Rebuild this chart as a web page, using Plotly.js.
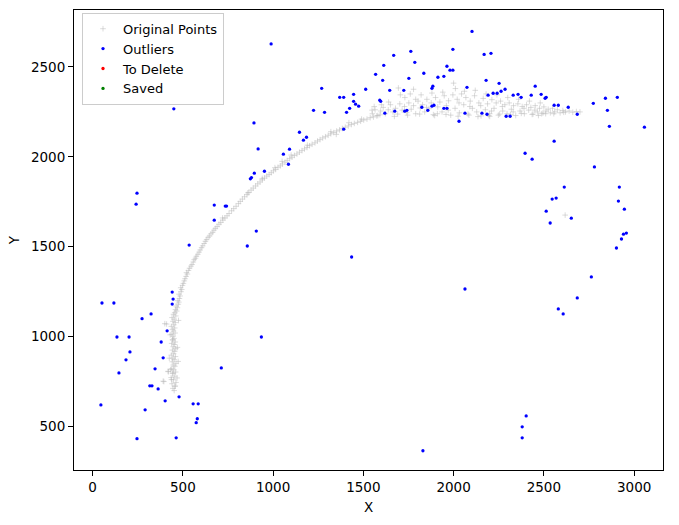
<!DOCTYPE html>
<html>
<head>
<meta charset="utf-8">
<script src="https://cdn.plot.ly/plotly-3.0.1.min.js"></script>
<style>html,body{margin:0;padding:0;background:#fff;}#chart{width:679px;height:525px;}</style>
</head>
<body>
<div id="chart"></div>
<script>
// ---- Data ----
const origX = [452,445,458,440,462,448,435,455,443,460,450,438,456,447,462,441,452,444,459,436,449,455,442,461,447,453,438,458,444,451,446,439,457,448,442,455,436,450,458,445,452,440,461,448,455,466,459,470,463,475,478,472,481,485,479,490,494,488,498,503,508,512,518,525,520,531,537,545,551,558,563,570,575,583,590,596,604,610,618,625,632,640,648,656,665,672,680,690,700,710,722,733,745,756,770,782,795,808,818,830,842,855,866,878,890,903,915,928,940,952,965,978,990,1002,1014,1027,1040,1052,1066,1078,1092,1105,1118,1132,1146,1160,1174,1188,1202,1216,1232,1246,1260,1275,1290,1305,1320,1336,1352,1368,1384,1400,1417,1434,1450,1468,1485,1502,1520,1538,1556,1574,1592,
430,425,470,476,410,395,420,468,474,1010,1050,1100,1190,1320,1350,1420,1490,720,860,940,432,446,437,443,418,391,400,456,
1550,1565,1580,1596,1610,1622,1638,1650,1664,1678,1690,1702,1715,1728,1740,1752,1765,1778,1790,1803,1815,1828,1840,1852,1864,1876,1888,1900,1912,1924,1936,1948,1960,1972,1984,1996,2008,2020,2032,2044,2056,2068,2080,2092,2104,2116,2128,2140,2152,2164,2176,2188,2200,2212,2224,2236,2248,2260,2272,2284,2296,2308,2320,2332,2344,2356,2368,2380,2392,2404,2416,2428,2440,2452,2464,2476,2488,2500,2512,2524,2536,2548,2560,2575,2590,2605,2620,2640,2660,2680,2700,
1705,1730,1760,1790,1820,1850,1880,1910,1940,1970,2000,2010,2030,2060,2090,2120,2150,2180,2210,2240,2270,2300,2330,2360,2390,2420,2450,2480,2510,2470,2200,1778,1694,1640,1600,2618,1548,1560,1672,1745,1812,1895,1958,2025,2085,2135,2195,2255,2315,2375,2435,2495,2555,2610];
const origY = [700,712,725,738,745,760,772,780,795,803,815,822,835,842,851,860,872,880,889,897,905,918,925,933,944,956,962,970,981,990,1002,1013,1020,1031,1040,1048,1057,1066,1078,1085,1097,1106,1115,1124,1133,1142,1150,1161,1170,1180,1192,1200,1212,1226,1236,1250,1262,1272,1285,1296,1310,1322,1335,1348,1356,1368,1380,1392,1401,1415,1428,1436,1447,1458,1470,1482,1495,1505,1518,1530,1540,1552,1560,1572,1580,1592,1602,1612,1625,1635,1648,1660,1672,1685,1700,1712,1725,1740,1752,1765,1778,1790,1802,1815,1826,1838,1850,1860,1872,1882,1893,1902,1912,1922,1930,1942,1950,1960,1970,1980,1990,1998,2008,2016,2026,2035,2044,2052,2062,2070,2078,2088,2096,2105,2112,2120,2128,2135,2144,2150,2158,2165,2172,2180,2186,2192,2198,2205,2210,2218,2222,2228,2234,
1010,880,940,1090,1070,750,805,770,862,1940,1975,2010,2065,2140,2125,2190,2210,1660,1800,1880,817,798,761,983,807,752,1072,724,
2240,2262,2230,2255,2275,2240,2262,2290,2250,2270,2238,2295,2260,2280,2246,2300,2265,2285,2240,2310,2272,2290,2250,2320,2268,2300,2235,2330,2278,2305,2250,2340,2285,2312,2232,2345,2270,2320,2245,2350,2290,2330,2238,2310,2270,2340,2250,2300,2228,2325,2262,2295,2240,2318,2270,2300,2232,2310,2255,2290,2240,2300,2265,2285,2230,2295,2255,2280,2240,2290,2260,2275,2238,2285,2250,2270,2240,2278,2255,2265,2245,2270,2250,2262,2245,2258,2250,2255,2248,2252,2250,
2345,2330,2350,2320,2345,2275,2355,2240,2360,2260,2410,2380,2300,2365,2280,2370,2285,2350,2255,2345,2280,2330,2250,2320,2270,2310,2260,2300,2240,2230,2225,2376,2383,2305,2290,1676,2260,2280,2225,2232,2238,2230,2236,2226,2232,2224,2230,2238,2234,2242,2236,2244,2240,2248];

const outX = [989,450,894,917,246,241,674,735,742,674,896,874,880,952,907,857,535,52,118,441,446,441,324,274,135,202,413,380,207,185,391,146,346,317,329,363,479,402,46,291,557,585,580,574,246,463,935,713,
1269,1224,1285,1369,1391,1446,1446,1457,1474,1424,1407,1391,1513,1568,1613,1607,1646,1668,1591,1596,1619,1674,1724,1729,1741,1752,1763,1785,1835,1824,1857,1880,1885,1880,1891,1913,1946,1963,1980,1996,1996,1946,1963,2030,2063,2074,1146,1168,1185,1057,1091,1085,
2102,2169,2207,2180,2191,2219,2241,2252,2263,2285,2157,2185,2291,2313,2330,2357,2374,2430,2452,2485,2507,2513,2557,2580,2635,2685,2774,2841,2852,2907,2863,3057,2557,2396,2435,2780,
2613,2918,2546,2568,2913,2513,2946,2652,2535,2941,2957,2930,2902,2763,2063,2685,2580,2607,1435,1830,2402,2380,2380];
const outY = [2628,2267,2189,2044,1798,1737,1732,1726,1726,1648,1909,1878,1885,1920,1587,1504,1509,1187,1187,1248,1209,1181,1126,1100,998,998,1032,970,915,871,882,798,821,726,726,709,665,643,620,593,626,626,543,521,432,437,998,826,
2381,2259,2248,2331,2331,2348,2309,2293,2282,2270,2248,2154,2376,2459,2509,2426,2370,2565,2315,2309,2243,2254,2370,2254,2259,2437,2587,2526,2465,2276,2259,2381,2393,2282,2287,2443,2448,2504,2482,2482,2598,2270,2270,2198,2243,2387,2137,2093,2109,2015,2043,1959,
2698,2570,2576,2426,2343,2354,2354,2409,2365,2376,2243,2237,2226,2226,2343,2348,2331,2343,2393,2348,2326,2331,2287,2287,2276,2237,2298,2326,2259,2331,2170,2165,2087,2020,1987,1944,
1832,1832,1765,1771,1754,1698,1709,1659,1632,1570,1576,1543,1493,1332,1265,1215,1154,1126,1443,365,559,498,437];

// "To Delete" and "Saved" hold no points in the reference (legend only)
const deleteX = [null];
const deleteY = [null];
const savedX = [null];
const savedY = [null];

const seriesNames = ["Original Points", "Outliers", "To Delete", "Saved"];
const xTicks = [0, 500, 1000, 1500, 2000, 2500, 3000];
const yTicks = [500, 1000, 1500, 2000, 2500];

// ---- Traces ----
const traces = [
  {x: origX, y: origY, name: seriesNames[0], type: 'scatter', mode: 'markers',
   marker: {symbol: 'cross-thin-open', size: 4, color: 'rgba(185,185,185,0.5)', line: {color: 'rgba(185,185,185,0.5)', width: 1}}},
  {x: outX, y: outY, name: seriesNames[1], type: 'scatter', mode: 'markers',
   marker: {symbol: 'circle', size: 3.3, color: '#0000ff'}},
  {x: deleteX, y: deleteY, name: seriesNames[2], type: 'scatter', mode: 'markers',
   marker: {symbol: 'circle', size: 3.3, color: '#ff0000'}},
  {x: savedX, y: savedY, name: seriesNames[3], type: 'scatter', mode: 'markers',
   marker: {symbol: 'circle', size: 3.3, color: '#008000'}}
];

const axisFont = {family: 'DejaVu Sans', size: 13.5, color: '#000'};
const layout = {
  width: 679, height: 525,
  margin: {l: 74, r: 16, t: 10, b: 54.5, pad: 0},
  paper_bgcolor: '#fff', plot_bgcolor: '#fff',
  font: axisFont,
  showlegend: true,
  legend: {x: 0.0136, y: 0.994, xanchor: 'left', yanchor: 'top',
           bgcolor: 'rgba(255,255,255,0.8)', bordercolor: '#cccccc', borderwidth: 1,
           font: {family: 'DejaVu Sans', size: 13, color: '#000'}, itemwidth: 30, tracegroupgap: 0},
  xaxis: {range: [-103, 3160], tickvals: xTicks, ticktext: xTicks.map(String), ticks: 'outside', ticklen: 5, tickwidth: 1, tickcolor: '#000',
          showline: true, mirror: true, linecolor: '#000', linewidth: 1, showgrid: false, zeroline: false,
          tickfont: axisFont, title: {text: 'X', font: axisFont, standoff: 8}, automargin: false},
  yaxis: {range: [258, 2817], tickvals: yTicks, ticktext: yTicks.map(String), ticks: 'outside', ticklen: 5, tickwidth: 1, tickcolor: '#000',
          showline: true, mirror: true, linecolor: '#000', linewidth: 1, showgrid: false, zeroline: false,
          tickfont: axisFont, title: {text: 'Y', font: axisFont, standoff: 8}, automargin: false}
};

Plotly.newPlot('chart', traces, layout, {displayModeBar: false, staticPlot: true});
</script>
</body>
</html>
